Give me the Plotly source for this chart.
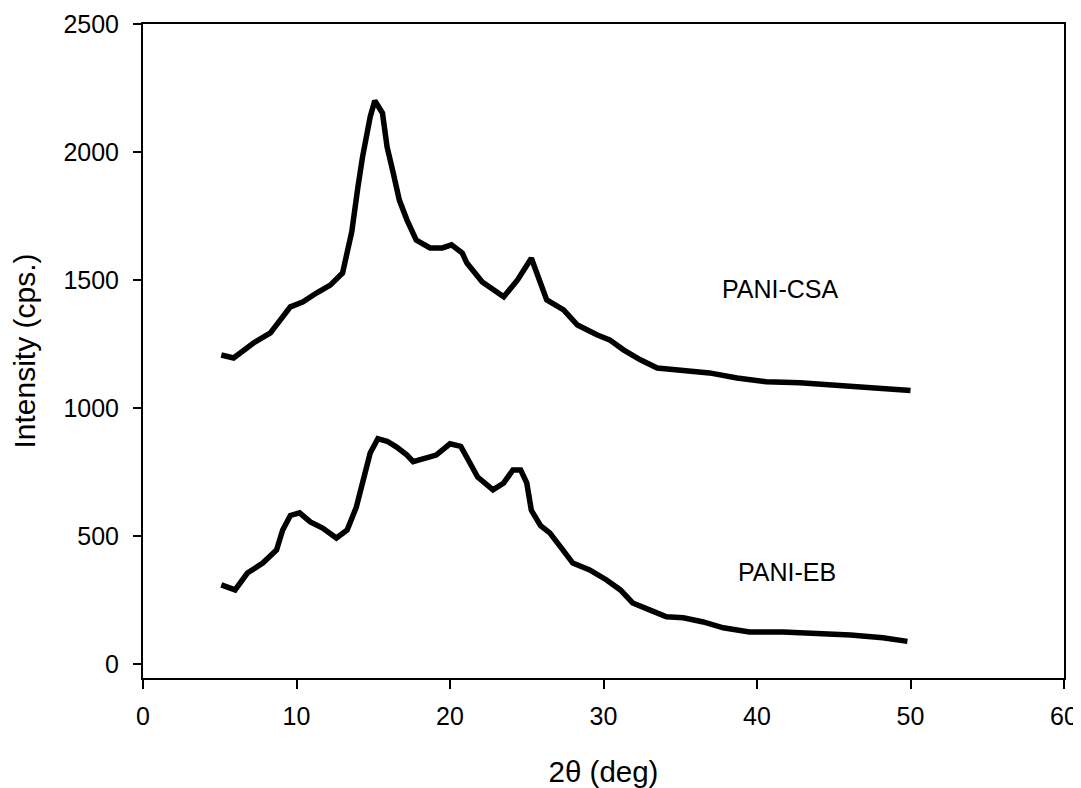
import plotly.graph_objects as go

# PANI-CSA (upper pattern)
csa_2theta = [5.1, 5.9, 7.2, 8.3, 9.6, 10.4, 11.3, 12.2, 13.0, 13.3, 13.6, 14.0, 14.3, 14.8,
              15.1, 15.6, 15.9, 16.3, 16.7, 17.2, 17.8, 18.7, 19.5, 20.1, 20.8, 21.1, 22.1,
              23.5, 24.4, 25.3, 25.9, 26.3, 27.4, 28.3, 29.6, 30.4, 31.3, 32.4, 33.5, 35.2,
              36.9, 38.7, 40.6, 42.8, 45.0, 47.2, 50.0]
csa_counts = [1207, 1195, 1254, 1293, 1395, 1414, 1449, 1480, 1527, 1605, 1688, 1863, 1980, 2137,
              2200, 2152, 2020, 1918, 1812, 1734, 1656, 1625, 1625, 1637, 1605, 1566, 1492,
              1434, 1500, 1585, 1488, 1422, 1383, 1324, 1285, 1266, 1227, 1188, 1156, 1148,
              1137, 1117, 1102, 1098, 1090, 1078, 1068]

# PANI-EB (lower pattern)
eb_2theta = [5.1, 6.0, 6.8, 7.8, 8.7, 9.1, 9.6, 10.2, 10.9, 11.7, 12.6, 13.3, 13.9, 14.3, 14.8,
             15.3, 15.9, 16.5, 17.2, 17.6, 18.2, 19.1, 20.0, 20.7, 21.3, 21.8, 22.8, 23.5,
             24.1, 24.6, 25.0, 25.3, 25.9, 26.5, 27.2, 28.0, 29.1, 30.2, 31.1, 31.9, 33.0,
             34.1, 35.2, 36.5, 37.8, 39.5, 41.7, 43.9, 46.1, 48.2, 49.8]
eb_counts = [309, 289, 355, 394, 445, 523, 580, 590, 555, 531, 492, 523, 613, 707, 824,
             880, 870, 848, 816, 790, 800, 816, 860, 850, 785, 730, 680, 707,
             758, 758, 707, 600, 540, 512, 457, 394, 367, 328, 289, 238, 211,
             184, 180, 164, 141, 125, 125, 121, 113, 102, 88]

x_ticks = [0, 10, 20, 30, 40, 50, 60]
y_ticks = [0, 500, 1000, 1500, 2000, 2500]

FONT = "Liberation Sans, Arial, sans-serif"

fig = go.Figure()
fig.add_trace(go.Scatter(x=csa_2theta, y=csa_counts, mode="lines",
                         line=dict(color="black", width=5.5), name="PANI-CSA"))
fig.add_trace(go.Scatter(x=eb_2theta, y=eb_counts, mode="lines",
                         line=dict(color="black", width=5.5), name="PANI-EB"))

fig.add_annotation(x=41.5, y=1465, text="PANI-CSA", showarrow=False,
                   font=dict(family=FONT, size=25, color="black"))
fig.add_annotation(x=41.95, y=359, text="PANI-EB", showarrow=False,
                   font=dict(family=FONT, size=25, color="black"))

# the page adds an 8px body margin, so the figure is sized to fit inside it
fig.update_layout(
    width=1073, height=780,
    margin=dict(l=135, r=17, t=16, b=110),
    paper_bgcolor="white", plot_bgcolor="white",
    showlegend=False,
    font=dict(family=FONT, color="black"),
)
fig.update_xaxes(
    range=[0, 60], tickvals=x_ticks, ticks="outside", ticklen=9, tickwidth=2,
    tickcolor="black", showline=True, linecolor="black", linewidth=2, mirror=True,
    showgrid=False, zeroline=False, tickfont=dict(size=25, family=FONT),
    ticklabelstandoff=6, automargin=False,
    title=dict(text="2θ (deg)", font=dict(size=29.5, family=FONT), standoff=34),
)
fig.update_yaxes(
    range=[-55, 2500], tickvals=y_ticks, ticks="outside", ticklen=8, tickwidth=2,
    tickcolor="black", showline=True, linecolor="black", linewidth=2, mirror=True,
    showgrid=False, zeroline=False, tickfont=dict(size=25, family=FONT),
    ticklabelstandoff=9, automargin=False,
    title=dict(text="Intensity (cps.)", font=dict(size=30, family=FONT), standoff=20),
)

fig.write_html("out.html")
